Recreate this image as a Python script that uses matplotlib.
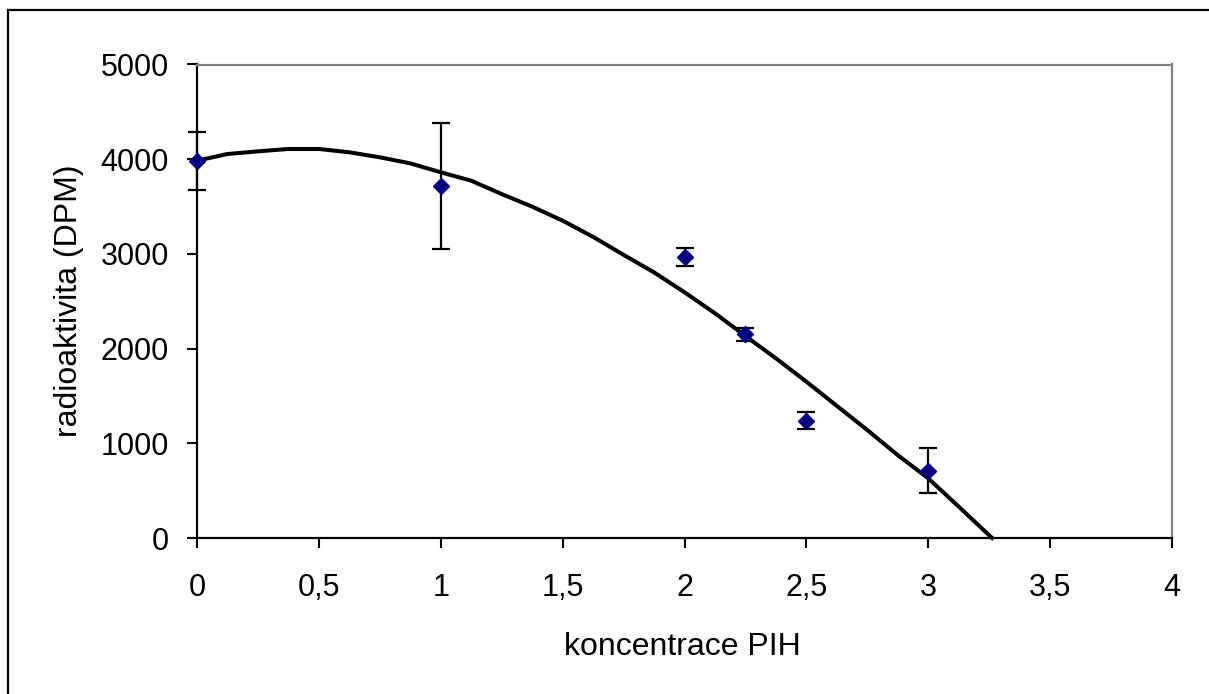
import numpy as np
import matplotlib
matplotlib.use('Agg')
from matplotlib import pyplot as plt
from matplotlib.patches import Rectangle
from matplotlib.ticker import FuncFormatter

# measured points with error bars
conc = [0, 1, 2, 2.25, 2.5, 3]
dpm = [3985, 3720, 2970, 2150, 1240, 710]
dpm_err = [305, 667, 95, 65, 93, 237]

# trendline
trend_x = [0, 0.125, 0.25, 0.375, 0.5, 0.625, 0.75, 0.875, 1, 1.125, 1.25,
           1.375, 1.5, 1.625, 1.75, 1.875, 2, 2.125, 2.25, 2.375, 2.5,
           2.625, 2.75, 2.875, 3, 3.125, 3.262]
trend_y = [3984, 4055, 4083, 4108, 4108, 4073, 4020, 3956, 3862, 3773, 3632,
           3499, 3351, 3180, 2990, 2805, 2595, 2373, 2133, 1897, 1651,
           1395, 1140, 875, 630, 331, 0]

xticks = [0, 0.5, 1, 1.5, 2, 2.5, 3, 3.5, 4]
yticks = [0, 1000, 2000, 3000, 4000, 5000]

plt.rcParams['font.family'] = ['Liberation Sans', 'DejaVu Sans']

W, H = 1209, 694
fig = plt.figure(figsize=(W / 100, H / 100), dpi=100)
ax = fig.add_axes([197 / W, 1 - 538 / H, (1172 - 197) / W, (538 - 64.5) / H])

ax.plot(trend_x, trend_y, color='black', lw=2.9, clip_on=False, zorder=2,
        solid_joinstyle='round')
ax.errorbar(conc, dpm, yerr=dpm_err, fmt='D', color='#000080', ms=8.5,
            ecolor='black', elinewidth=1.6, capsize=6.5, capthick=1.6,
            clip_on=False, zorder=3)

ax.set_xlim(0, 4)
ax.set_ylim(0, 5000)
ax.set_xticks(xticks)
ax.set_yticks(yticks)
ax.xaxis.set_major_formatter(FuncFormatter(lambda v, p: ('%g' % v).replace('.', ',')))
ax.yaxis.set_major_formatter(FuncFormatter(lambda v, p: '%d' % v))

ax.tick_params(axis='x', direction='out', length=7, width=1.5, pad=18,
               labelsize=22, colors='black')
ax.tick_params(axis='y', direction='out', length=7.2, width=1.5, pad=13,
               labelsize=22, colors='black')

for side in ['left', 'bottom']:
    ax.spines[side].set_color('black')
    ax.spines[side].set_linewidth(1.6)
for side in ['top', 'right']:
    ax.spines[side].set_color('#808080')
    ax.spines[side].set_linewidth(1.6)

fig.text(682 / W, 1 - 655 / H, 'koncentrace PIH', ha='center', va='baseline',
         fontsize=23)
fig.text(69 / W, 1 - 301 / H, 'radioaktivita (DPM)', ha='center', va='center',
         rotation=90, fontsize=23)

# outer frame of the chart
fig.patches.append(Rectangle((8 / W, -0.1), 1.2, 1 - 10 / H + 0.1,
                             transform=fig.transFigure, fill=False,
                             edgecolor='black', lw=1.6))

fig.savefig('out.png', dpi=100)
